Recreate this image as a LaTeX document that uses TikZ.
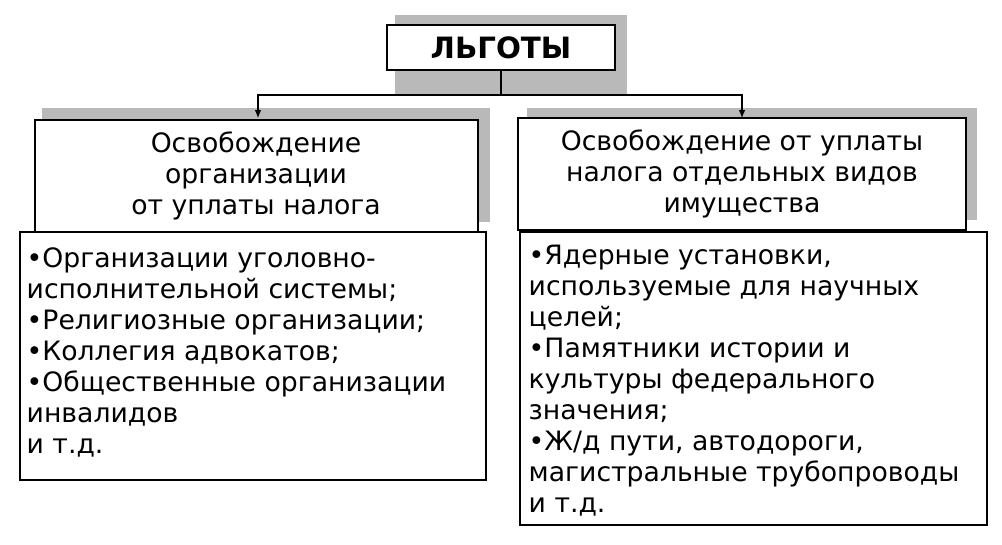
\documentclass[tikz,border=0pt]{standalone}
\usepackage{fontspec}
\usetikzlibrary{arrows.meta}
\setmainfont{DejaVu Sans}
\begin{document}
\begin{tikzpicture}[x=0.75pt,y=-0.75pt,
 box/.style={draw,thick,fill=white},
 shad/.style={fill=gray!55,draw=none},
 txt/.style={font=\fontsize{20}{23.3}\selectfont}]
\useasboundingbox (0,0) rectangle (1002,544);
% title
\fill[shad] (395,15) rectangle (627,95);
\draw[box] (387,25) rectangle (615,70);
\node[font=\fontsize{22}{25}\selectfont\bfseries] (t) at (501,47.5) {ЛЬГОТЫ};
% headers
\fill[shad] (42,108) rectangle (490,222);
\draw[box] (35,120) rectangle (478,232);
\node[txt,align=center] (l) at (256,176) {Освобождение\\организации\\от уплаты налога};
\fill[shad] (527,108) rectangle (977,220);
\draw[box] (518,118) rectangle (966,230);
\node[txt,align=center] (r) at (742,174) {Освобождение от уплаты\\налога отдельных видов\\имущества};
\coordinate (tb) at (501,70);
\coordinate (j) at (501,95);
\coordinate (lt) at (258,118);
\coordinate (rt) at (742,118);
\draw[thick] (tb) -- (j);
\draw[thick,-{Latex[length=6pt,width=5pt]}] (j) -| (lt);
\draw[thick,-{Latex[length=6pt,width=5pt]}] (j) -| (rt);
% lists
\draw[box] (20,232) rectangle (486,480);
\node[txt,align=left,anchor=north west] (ll) at (22,243) {•Организации уголовно-\\исполнительной системы;\\•Религиозные организации;\\•Коллегия адвокатов;\\•Общественные организации\\инвалидов\\и т.д.};
\draw[box] (520,232) rectangle (987,525);
\node[txt,align=left,anchor=north west] (rl) at (524,240) {•Ядерные установки,\\используемые для научных\\целей;\\•Памятники истории и\\культуры федерального\\значения;\\•Ж/д пути, автодороги,\\магистральные трубопроводы\\и т.д.};
\end{tikzpicture}
\end{document}
